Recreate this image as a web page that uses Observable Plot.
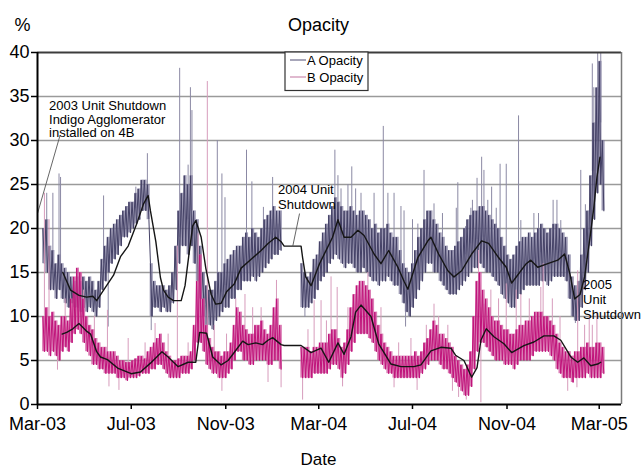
<!DOCTYPE html>
<html><head><meta charset="utf-8">
<script src="https://cdn.jsdelivr.net/npm/d3@7"></script>
<script src="https://cdn.jsdelivr.net/npm/@observablehq/plot@0.6"></script>
<style>body{margin:0;background:#fff}#chart{width:642px;height:470px}</style>
</head><body><div id="chart"></div>
<script>
// Days counted from 1 Mar 2003; samples every 4 days from day 8 to day 736
const firstDay = 8, lastDay = 736, stepDays = 4;

// A Opacity: daily scatter band (low / high) per 4-day slot, % ; null = 2004 unit shutdown
const aLow = [
16,15,13,13,12,13,12,11.5,11,11.5,
11,11,10.5,11,10.5,11,10.5,10,11,13,
14,15,16,16.5,17,18,19,19,19.5,20,
20.5,21,22,22,21,10,11,11,10.5,11,
10.5,10.5,11.5,13,16,18,18,17,18,16,
14,12,10,9,9,8.5,9.5,10,10.5,11,
11,12,12,13,13,14,14,14,14.5,14,
14.5,15,15.5,16,16.5,17,17,17.5,null,null,
null,null,null,null,11,11,11,11.5,12,13,
14,14.5,15,16,16.5,17,16.5,16,15.5,16,
16,15.5,15,15,15.5,15,14.5,14,14,13.5,
14,14,14.5,14,13.5,13.5,12.5,11.5,10.5,10,
11,12,13,14,15,16,16,15,15,14,
13.5,13,12.5,12.5,12.5,13,13.5,14,14.5,15,
15.5,15.5,16,15.5,15,15,14.5,14,13.5,12.5,
12,11.5,11,11,12,12.5,13,13.5,13.5,13.5,
13.5,13.5,14,14,13.5,14,14.5,14.5,14.5,14.5,
14,12,10,9.5,9.5,11,13,15,18,21,
24,25,22];
const aHigh = [
20,21,18,17.5,16,17,16,15.5,15,14.5,
14,14.5,14,14.5,14,14.5,14,13,14,16.5,
18,19,20,20.5,21,21.5,22,22.5,23,23,
24,24.5,25.5,25.5,25,16,14,13.5,13.5,13.5,
13,13.5,15,18,22,24,26,25,26,22,
21,18,15,13.5,13,13,14,15,15,16,
16.5,17,17.5,18,18,19,19.5,19,20,19.5,
19,20,21,21.5,22,22.5,22,22,null,null,
null,null,null,null,16,15,14.5,15,16.5,17,
18.5,19.5,20.5,21.5,22.5,23.5,23,22.5,22,22,
22.5,22,21.5,22,22,21.5,21,20,20.5,19.5,
20,20,20.5,19.5,19,19,17.5,16,15.5,15,
16,17.5,19,20,21,22,22,21,20.5,19.5,
19,18,17.5,17.5,18,18.5,19,20,21,21.5,
22,22,22.5,22.5,22,21.5,21,20.5,20,19,
18,17,16.5,17,18,18.5,19,19,19.5,19,
19.5,20,20.5,20,19.5,20,20.5,20.5,20,19.5,
19,17,14.5,13.5,14,17,20,22,26,32,
36,39,30];

// B Opacity band
const bLow = [
6,6,5.5,6,5.5,5,6,6.5,6,7,
8,8.5,8,7,6,5.5,4.5,4.5,4,4,
3.5,3.5,3.5,3.5,3,3,3,2.7,3,3,
3,3.2,3.5,3.5,3.5,4,4,4.5,4.5,4,
3.5,3,3,3,3,3.5,3.5,3.5,4,5,
7,7,6,4.5,4,3.5,3.5,3,3,3,
3.5,4,5,6,6,5,5,4.5,4.5,5,
5,5,5,4.5,4.5,5,5,4,null,null,
null,null,null,null,3,3,3,3,3.5,3.5,
3.5,3.5,3.5,4,4.5,4.5,4,3,3.5,4.5,
6,7,8,8,8,8,7.5,7,6,5,
4.5,4,3.5,3.5,3,3,3,3,3,3,
3,3,3,3.5,4,4.5,5,5,5,4.5,
4,4,3.5,3,2.5,2,1.5,1,1,2,
4,6,7,7,6.5,6,5.5,5,5,5,
4.5,4.5,4.5,4,4.5,5,5,5,5,5.5,
6,6,6,6,6,5.5,5,4,3.5,3,
3,3,2.5,3,3,3,3,3.5,3,3,
3,3,3.5];
const bHigh = [
10,11,10,10.5,9.5,9,10,10,9.5,12,
14.5,15.5,15,12,10,9,8.5,7.5,7,6.5,
6.5,6,6,6,5.5,5,5,4.8,4.8,5,
5.2,5.5,5.5,5.2,6,6.5,7,7.5,8,7,
6,5.5,5,5,5.2,5.5,5.5,5.5,6,9,
14,17,12,9,7.5,6.5,6,6,5.5,6,
6,7,9,11,10.5,9,8.5,8,8,9,
9,9.5,8.5,8,9,11,12,9,null,null,
null,null,null,null,6.5,6.5,6.5,6,6.5,6.5,
7,7,7,8,8.5,8.5,7.5,6.5,7,8.5,
11,12.5,13.5,14,14,13.5,13,12,10.5,9,
8,7,6.5,6,5.5,5.5,5.5,5.5,5.5,5.5,
5.5,6,5.5,6,7,7.5,8.5,9.5,9,8,
8,7.5,7,6.5,5.5,5,4.5,4,4.5,6,
10,14,15,13,12,11,10,9.5,9.5,9,
8.5,8.5,8,8,8.5,9,9,9.5,9.5,10,
10.5,10.5,10.5,10,10,9.5,9,8,7,6.5,
6,6,5.5,6,6,6.5,6.5,7,6.5,6.5,
7,7,6.5];

// single-day excursions (day, %)
const aSpikeDay = [12,20,28,30,86,92,128,143,148,185,196,199,201,218,234,240,244,272,279,294,304,306,313,348,387,391,395,404,409,414,421,438,450,456,464,473,477,479,488,495,503,516,527,545,547,557,564,566,572,578,581,586,591,597,602,610,626,629,646,652,655,671,676,681,700,707,713,722,724,729,733];
const aSpikeVal = [24,24,26.2,25.8,23.7,8.8,24.7,28.5,8.4,38.2,27.2,36,33.4,8,30,26.2,23.5,28.9,25.3,22.4,21,25.8,20.5,9.9,28.9,26,24.5,25,27,24.5,24,24,31.6,24,24,22.5,22,8.8,21,20.5,26.6,22.8,21.7,22.3,25.2,20.2,22.3,23.2,25.7,28.1,26.6,23.2,24.7,22.3,27.3,27.3,32.8,20.9,21.7,21.7,19.8,23.2,23.2,20.9,9.2,26.6,22.7,38.7,36,40,39.9];
const bSpikeDay = [9,15,26,36,60,74,91,93,106,118,140,153,170,182,196,209,221,230,240,246,258,270,280,291,300,311,317,345,352,360,369,376,382,390,397,404,430,447,464,470,486,494,506,516,522,534,540,548,558,574,577,581,590,600,610,623,629,640,655,658,670,680,690,702,703,712,718,722,728];
const bSpikeVal = [24,21,3.9,12,13,10,10.7,2,1.6,7.5,7,9.2,8,18,7,19.4,36.7,9,1.5,8,12,12.5,11,11,2.5,14.1,1.9,0.5,8.5,11.8,11.8,9.5,14.5,13.3,2,11,15,11,1.9,7,7.5,1.6,9,11.4,10,9,1.5,0.8,0.5,17.5,0.2,11.4,13,12,13.7,13,12.5,12,13.3,16,12,10,1.5,1.9,15.2,9,10,9,10.5];

// moving averages (black lines)
const avgDayA = [33,43,54,64,72,77,86,99,108,118,129,138,144,147,154,160,164,170,177,187,192,197,202,206,213,219,226,232,239,246,256,265,278,291,300,310,317,321,343,345,349,356,367,384,391,399,408,417,425,438,447,457,469,477,482,495,508,512,522,534,542,552,565,578,587,600,610,617,624,636,642,651,664,677,686,693,699,706,712,719,724,728,732];
const avgValA = [15.0,13.0,12.4,12.2,12.3,11.8,13.0,14.7,16.8,18.0,20.5,22.8,23.75,22.0,18.5,14.4,13.0,12.2,11.8,11.8,13.5,17.0,20.3,20.9,19.0,15.5,12.5,11.4,11.5,12.8,13.7,15.5,16.5,17.5,18.3,19.0,18.5,18.0,18.0,16.7,14.5,13.5,16.0,19.0,21.0,19.0,19.0,19.8,19.2,17.1,16.0,17.5,15.6,14.0,13.1,16.7,18.6,19.0,17.1,15.2,14.5,15.2,17.1,18.6,18.3,16.7,15.6,13.8,14.6,16.0,16.4,15.6,16.0,16.4,17.1,14.8,12.0,12.5,14.5,19.0,22.4,25.8,28.1];
const avgDayB = [32,38,46,54,63,69,77,82,91,105,122,134,147,162,170,183,196,206,211,220,228,239,248,255,267,274,284,293,300,306,317,321,343,356,369,379,391,399,408,414,421,434,444,460,473,490,499,512,525,538,544,555,565,572,577,584,594,607,617,633,646,659,672,681,694,703,711,720,729,733];
const avgValB = [8.0,8.2,8.6,9.2,8.4,8.0,6.0,5.4,5.1,4.1,3.5,3.7,4.7,6.0,5.4,4.3,4.8,4.8,8.2,8.1,5.4,4.5,5.0,5.8,7.2,6.8,7.0,6.8,7.3,7.6,6.8,6.7,6.7,5.9,6.4,4.8,7.0,5.7,7.7,10.5,11.3,10.0,6.9,4.6,4.3,4.3,4.5,6.1,6.5,6.4,5.6,5.0,3.1,4.2,7.3,8.6,7.7,6.9,5.9,6.7,7.1,7.8,7.8,7.3,5.4,4.8,5.3,4.4,4.6,4.8];

// axis ticks
const yTicks = [0,5,10,15,20,25,30,35,40];
const xTickDates = ["2003-03-01","2003-07-01","2003-11-01","2004-03-01","2004-07-01","2004-11-01","2005-03-01"];

// annotations
const notes = [
  {label: "2003 Unit Shutdown\nIndigo Agglomerator\ninstalled on 4B", day: 15, value: 32.4, lh: 1.05},
  {label: "2004 Unit\nShutdown", day: 313, value: 23.6, lh: 1.18},
  {label: "2005\nUnit\nShutdown", day: 710, value: 12.0, lh: 1.15}
];
const leaders = [
  {d1: 29.4, v1: 30.6, d2: 0, v2: 21.7},
  {d1: 341, v1: 21.7, d2: 332, v2: 17.9}
];

// ---------- build ----------
const base = Date.UTC(2003, 2, 1);
const toDate = d => new Date(base + d * 864e5);
const slotDays = d3.range(firstDay, lastDay + 1, stepDays);
const slots = slotDays.map((d, i) => ({date: toDate(d), aLow: aLow[i], aHigh: aHigh[i], bLow: bLow[i], bHigh: bHigh[i]}));
// daily-looking trace: each slot's high then low, 2 days apart
const trace = (lo, hi) => slotDays.flatMap((d, i) => [
  {date: toDate(d - 1), v: hi[i]}, {date: toDate(d + 1), v: lo[i]}]);
const aTrace = trace(aLow, aHigh), bTrace = trace(bLow, bHigh);
function mid(day, lo, hi) {
  const i = Math.max(0, Math.min(slotDays.length - 1, Math.round((day - firstDay) / stepDays)));
  return (lo[i] + hi[i]) / 2;
}
const aSpikes = aSpikeDay.map((d, i) => ({date: toDate(d), top: aSpikeVal[i], base: mid(d, aLow, aHigh)}));
const bSpikes = bSpikeDay.map((d, i) => ({date: toDate(d), top: bSpikeVal[i], base: mid(d, bLow, bHigh)}));
const avgA = avgDayA.map((d, i) => ({date: toDate(d), v: avgValA[i]}));
const avgB = avgDayB.map((d, i) => ({date: toDate(d), v: avgValB[i]}));
const font = "'Liberation Sans', Arial, Helvetica, sans-serif";

const chart = Plot.plot({
  width: 642, height: 470,
  marginLeft: 37, marginRight: 21, marginTop: 52, marginBottom: 66,
  style: {fontFamily: font, fontSize: "18px", color: "#000", background: "#fff", overflow: "visible"},
  x: {type: "utc", domain: [toDate(0), toDate(760)]},
  y: {domain: [0, 40]},
  marks: [
    Plot.ruleY([5,10,15,20,25,30,35], {stroke: "#9a9a9a", strokeWidth: 1.5}),
    Plot.ruleX(aSpikes, {x: "date", y1: "base", y2: "top", stroke: "#8b89a4", strokeWidth: 1}),
    Plot.ruleX(slots, {x: "date", y1: "aLow", y2: "aHigh", stroke: "#7d7a9c", strokeWidth: 3.1, strokeOpacity: 0.75}),
    Plot.line(aTrace, {x: "date", y: "v", stroke: "#444166", strokeWidth: 1}),
    Plot.ruleX(bSpikes, {x: "date", y1: "base", y2: "top", stroke: "#d79cbc", strokeWidth: 1}),
    Plot.ruleX(slots, {x: "date", y1: "bLow", y2: "bHigh", stroke: "#d25ea3", strokeWidth: 3.1, strokeOpacity: 0.8}),
    Plot.line(bTrace, {x: "date", y: "v", stroke: "#c0127a", strokeWidth: 1}),
    Plot.line(avgA, {x: "date", y: "v", stroke: "#151515", strokeWidth: 1.4}),
    Plot.line(avgB, {x: "date", y: "v", stroke: "#151515", strokeWidth: 1.4}),
    Plot.link(leaders, {x1: d => toDate(d.d1), y1: "v1", x2: d => toDate(d.d2), y2: "v2", stroke: "#555", strokeWidth: 0.9}),
    ...notes.map(n => Plot.text([n], {x: d => toDate(d.day), y: "value", text: "label", textAnchor: "start", lineAnchor: "middle", lineHeight: n.lh, fontSize: 13, fill: "#000"})),
    Plot.ruleY([40], {stroke: "#3c3c3c", strokeWidth: 2}),
    Plot.ruleX([toDate(760)], {stroke: "#7a7a7a", strokeWidth: 1.5}),
    Plot.ruleX([toDate(0)], {stroke: "#000", strokeWidth: 2}),
    Plot.ruleY([0], {stroke: "#000", strokeWidth: 2}),
    Plot.axisY(yTicks, {tickSize: 6, tickPadding: 2, label: null, fontSize: 18, stroke: "#000", strokeWidth: 1.5}),
    Plot.axisX(xTickDates.map(s => new Date(s + "T00:00Z")), {tickFormat: d3.utcFormat("%b-%y"), tickSize: 5, tickPadding: 8, label: null, fontSize: 18, stroke: "#000", strokeWidth: 1.5}),
    Plot.text(["Opacity"], {frameAnchor: "top-left", dx: 281, dy: -27, textAnchor: "middle", lineAnchor: "middle", fontSize: 18}),
    Plot.text(["%"], {frameAnchor: "top-left", dx: -15, dy: -27, textAnchor: "middle", lineAnchor: "middle", fontSize: 18}),
    Plot.text(["Date"], {frameAnchor: "bottom-left", dx: 281, dy: 55, textAnchor: "middle", lineAnchor: "middle", fontSize: 17})
  ]
});

// legend box
const svg = d3.select(chart);
const lg = svg.append("g").attr("font-family", font).attr("font-size", 13).attr("text-anchor", "start");
lg.append("rect").attr("x", 285).attr("y", 52).attr("width", 83).attr("height", 38.5)
  .attr("fill", "#fff").attr("stroke", "#333").attr("stroke-width", 1.2);
[["A Opacity", "#8a88a2", 60], ["B Opacity", "#d6a2bf", 77]].forEach(([t, c, y]) => {
  lg.append("line").attr("x1", 290).attr("x2", 306).attr("y1", y).attr("y2", y).attr("stroke", c).attr("stroke-width", 1.5);
  lg.append("text").attr("x", 307).attr("y", y).attr("dy", "0.35em").attr("text-anchor", "start").attr("fill", "#000").text(t);
});
document.getElementById("chart").appendChild(chart);
</script>
</body></html>
